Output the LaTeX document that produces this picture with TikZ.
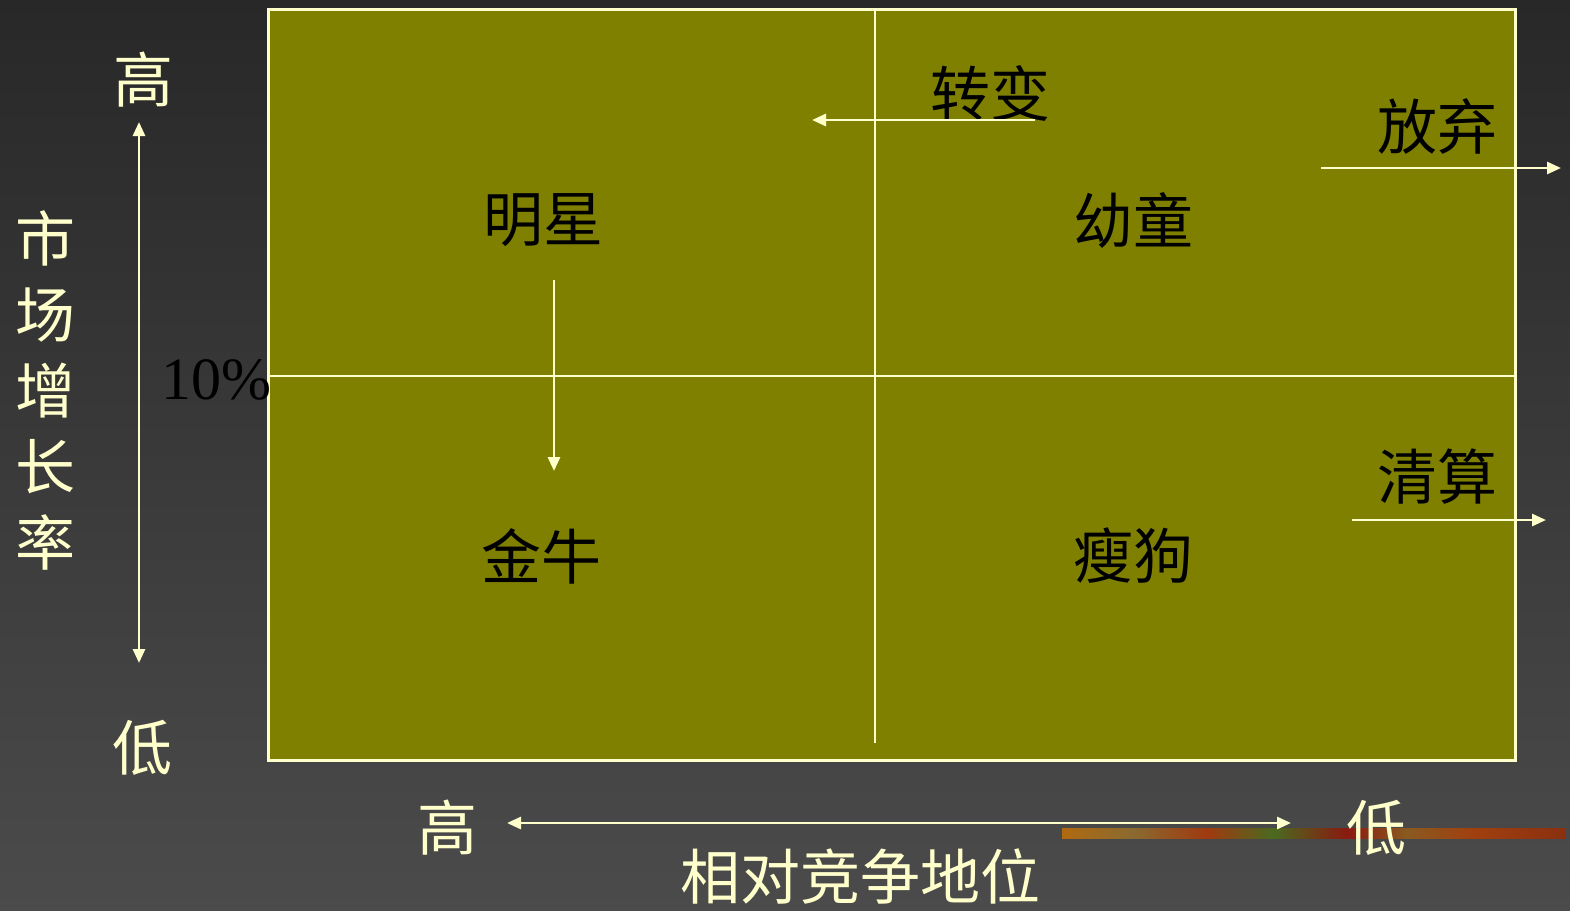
\documentclass[tikz,border=0pt]{standalone}
\usepackage{fontspec}
\setmainfont{Liberation Serif}
\newfontfamily\cjk{Noto Sans CJK SC}
\usetikzlibrary{arrows.meta}
\definecolor{cream}{HTML}{FFFFCC}
\definecolor{boxolive}{HTML}{808000}
\definecolor{bgtop}{HTML}{282828}
\definecolor{bgbot}{HTML}{4B4B4B}
\tikzset{
  big/.style={font=\cjk\fontsize{60}{76}\selectfont, inner sep=0pt},
  lbl/.style={big, text=cream},
  qlbl/.style={big, text=black},
  cline/.style={draw=cream, line width=2.8pt},
  carrow/.style={draw=cream, line width=2.8pt, -{Triangle[length=14pt,width=12pt]}},
  cdarrow/.style={draw=cream, line width=2.8pt, {Triangle[length=14pt,width=12pt]}-{Triangle[length=14pt,width=12pt]}},
}
\begin{document}
\begin{tikzpicture}[x=1pt,y=-1pt]
\useasboundingbox (0,0) rectangle (1570,910);
\shade[top color=bgtop, bottom color=bgbot] (0,0) rectangle (1570,910);
% decorative strip
\foreach \xa/\xb/\ca/\cb in {1062/1133/B06A10/8A6A30, 1133/1207/8A6A30/A03A10, 1207/1273/A03A10/4A6A20, 1273/1347/4A6A20/8A1A10, 1347/1407/8A1A10/8A5A20, 1407/1473/8A5A20/A04010, 1473/1565/A04010/8A3010}{
  \definecolor{stripa}{HTML}{\ca}
  \definecolor{stripb}{HTML}{\cb}
  \shade[left color=stripa, right color=stripb] (\xa,828) rectangle (\xb,838);
}
% matrix
\node[draw=cream, line width=2.8pt, fill=boxolive, minimum width=1247pt, minimum height=751pt, inner sep=0pt, anchor=north west] (box) at (267,8) {};
\coordinate (vt) at (875,8);
\coordinate (vb) at (875,743);
\draw[cline] (vt) -- (vb);
\draw[cline] (box.west |- 0,376) -- (box.east |- 0,376);
% quadrant labels
\node[qlbl] (star) at (543,220) {明星};
\node[qlbl] (child) at (1133,220) {幼童};
\node[qlbl] (cow) at (541,556) {金牛};
\node[qlbl] (dog) at (1133,556) {瘦狗};
\node[qlbl] (turn) at (990,93) {转变};
\node[qlbl] (drop) at (1437,127) {放弃};
\node[qlbl] (liq) at (1437,477) {清算};
\node[font=\fontsize{60}{72}\selectfont, inner sep=0pt, text=black] (pct) at (216,380) {10\%};
% arrows in matrix
\coordinate (ta) at (1035,120); \coordinate (tb) at (812,120);
\draw[carrow] (ta) -- (tb);
\coordinate (da) at (1321,168); \coordinate (db) at (1561,168);
\draw[carrow] (da) -- (db);
\coordinate (la) at (1352,520); \coordinate (lb) at (1546,520);
\draw[carrow] (la) -- (lb);
\coordinate (sa) at (554,280); \coordinate (sb) at (554,471);
\draw[carrow] (sa) -- (sb);
% vertical axis
\node[lbl] (vhi) at (143,80) {高};
\node[lbl] (vlo) at (142,748) {低};
\node[lbl, align=center] (vname) at (46,390) {市\\场\\增\\长\\率};
\coordinate (va) at (139,122); \coordinate (vb2) at (139,663);
\draw[cdarrow] (va) -- (vb2);
% horizontal axis
\node[lbl] (hhi) at (447,828) {高};
\node[lbl] (hlo) at (1376,828) {低};
\node[lbl] (hname) at (860,876) {相对竞争地位};
\coordinate (ha) at (507,823); \coordinate (hb) at (1291,823);
\draw[cdarrow] (ha) -- (hb);
\end{tikzpicture}
\end{document}
